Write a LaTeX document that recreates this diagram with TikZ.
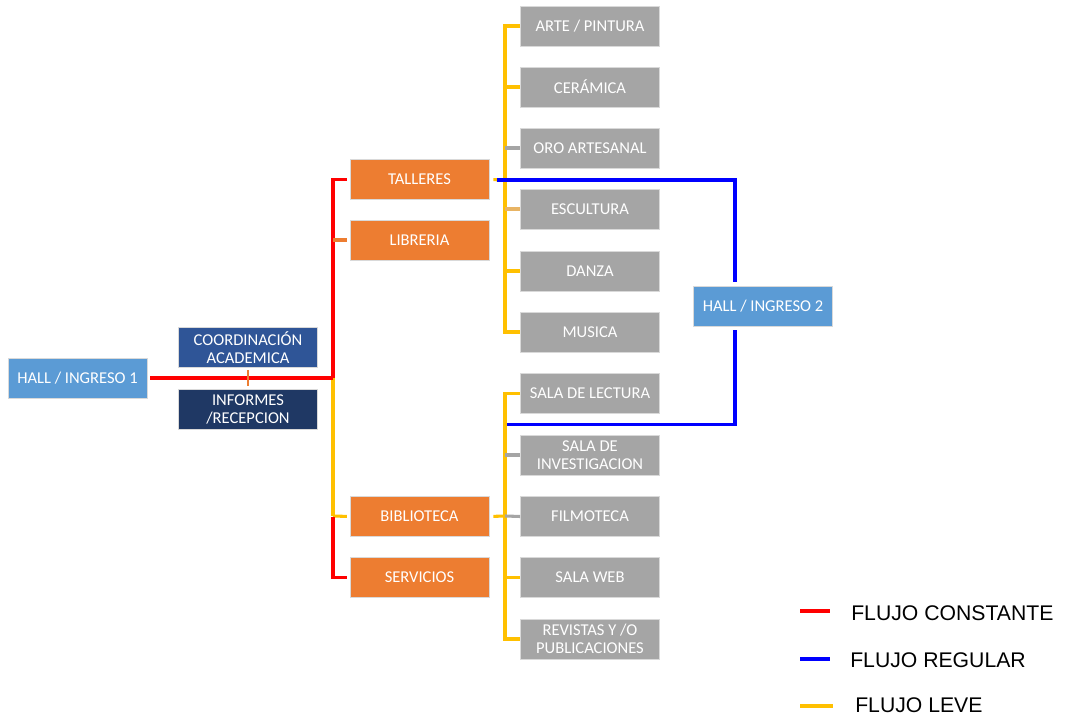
\documentclass[tikz,border=0pt]{standalone}
\usepackage{fontspec}
\setmainfont{Carlito}
\newfontfamily\legfont{Liberation Sans}
\definecolor{cRed}{RGB}{255,0,0}
\definecolor{cBlue}{RGB}{0,0,255}
\definecolor{cYel}{RGB}{255,192,0}
\definecolor{cOrg}{RGB}{237,125,49}
\definecolor{cGray}{RGB}{165,165,165}
\definecolor{cLBlue}{RGB}{91,155,213}
\definecolor{cDBlue}{RGB}{47,85,151}
\definecolor{cNavy}{RGB}{31,56,100}
\definecolor{cTan}{RGB}{232,180,100}
\tikzset{
  box/.style={minimum width=104.5pt, minimum height=30pt, inner sep=0pt, align=center, text=white,
    font=\fontsize{12.4}{13.5}\selectfont, draw=white!85!black, line width=0.4pt},
  hallbox/.style={box, fill=cLBlue},
  orgbox/.style={box, fill=cOrg},
  graybox/.style={box, fill=cGray},
  rl/.style={draw=cRed, line width=2.8pt},
  bl/.style={draw=cBlue, line width=2.8pt},
  yl/.style={draw=cYel, line width=2.3pt},
  gl/.style={draw=cGray, line width=2.3pt},
  tl/.style={draw=cTan, line width=2.3pt},
  ol/.style={draw=cOrg, line width=2.3pt},
  legtxt/.style={anchor=west, inner sep=0pt, font=\legfont\fontsize{15.9}{18}\selectfont, text=black}
}
\begin{document}
\begin{tikzpicture}[x=0.75pt,y=-0.75pt]
\useasboundingbox (0,0) rectangle (1065,720);
% nodes
\node[hallbox] (hall1) at (77.5,378) {HALL / INGRESO 1};
\node[box, fill=cDBlue] (coord) at (248,347.5) {COORDINACIÓN\\ACADEMICA};
\node[box, fill=cNavy] (inf) at (248,409) {INFORMES\\/RECEPCION};
\node[orgbox] (talleres) at (419.5,179.5) {TALLERES};
\node[orgbox] (libreria) at (419.5,240) {LIBRERIA};
\node[orgbox] (biblio) at (419.5,516.5) {BIBLIOTECA};
\node[orgbox] (servicios) at (419.5,577.5) {SERVICIOS};
\node[graybox] (g1) at (590,26) {ARTE / PINTURA};
\node[graybox] (g2) at (590,87) {CERÁMICA};
\node[graybox] (g3) at (590,148) {ORO ARTESANAL};
\node[graybox] (g4) at (590,209) {ESCULTURA};
\node[graybox] (g5) at (590,271) {DANZA};
\node[graybox] (g6) at (590,332) {MUSICA};
\node[graybox] (g7) at (590,393.5) {SALA DE LECTURA};
\node[graybox] (g8) at (590,455) {SALA DE\\INVESTIGACION};
\node[graybox] (g9) at (590,516.5) {FILMOTECA};
\node[graybox] (g10) at (590,577.5) {SALA WEB};
\node[graybox] (g11) at (590,639) {REVISTAS Y /O\\PUBLICACIONES};
\node[hallbox] (hall2) at (763,306) {HALL / INGRESO 2};
% junction coordinates
\coordinate (rj) at (333,378);
\coordinate (rt) at (333,180);
\coordinate (rl) at (333,240);
\coordinate (rb) at (333,516);
\coordinate (ty) at (505,180);
\coordinate (tb) at (505,516);
\coordinate (ti) at (497,180);
\coordinate (bt) at (735,180);
\coordinate (bb) at (735,424.5);
\coordinate (be) at (507,424.5);
% yellow lines (taller group)
\draw[yl] (g1.west) -| (ty) |- (g6.west);
\draw[yl] (505,87) -- (g2.west);
\draw[gl] (505,148) -- (g3.west);
\draw[tl] (505,209) -- (g4.west);
\draw[yl] (505,271) -- (g5.west);
\draw[yl, shorten <=3pt] (talleres.east) -- (ty);
% yellow lines (biblioteca group)
\draw[yl] (g7.west) -| (tb) |- (g11.west);
\draw[gl] (505,455) -- (g8.west);
\draw[gl] (tb) -- (g9.west);
\draw[yl] (505,577.5) -- (g10.west);
\draw[yl, shorten <=3pt] (biblio.east) -- (tb);
% main trunk
\draw[yl] (rj) -- (rb);
\draw[yl, shorten >=2pt] (rb) -- (biblio.west);
\draw[rl] (333,517) |- ([xshift=-2pt]servicios.west);
\draw[rl, shorten <=2pt] (hall1.east) -- (rj);
\draw[rl] (rj) |- ([xshift=-2pt]talleres.west);
\draw[ol, shorten >=2pt] (rl) -- (libreria.west);
\draw[ol, line width=1.8pt, shorten <=2pt, shorten >=2pt] (coord.south) -- (inf.north);
% blue lines
\draw[bl, line join=miter] (ti) -- (bt) -- ([yshift=3pt]hall2.north -| bt);
\draw[bl, line join=miter] ([yshift=-3pt]hall2.south -| bb) -- (bb) -- (be);
% legend
\coordinate (l1a) at (800,611); \coordinate (l1b) at (830,611);
\coordinate (l2a) at (800,659); \coordinate (l2b) at (830,659);
\coordinate (l3a) at (800,706); \coordinate (l3b) at (833,706);
\draw[draw=cRed, line width=3.5pt] (l1a) -- (l1b);
\draw[draw=cBlue, line width=3.5pt] (l2a) -- (l2b);
\draw[draw=cYel, line width=3.5pt] (l3a) -- (l3b);
\node[legtxt] (t1) at (851,613) {FLUJO CONSTANTE};
\node[legtxt] (t2) at (850,660) {FLUJO REGULAR};
\node[legtxt] (t3) at (855,705) {FLUJO LEVE};
\end{tikzpicture}
\end{document}
